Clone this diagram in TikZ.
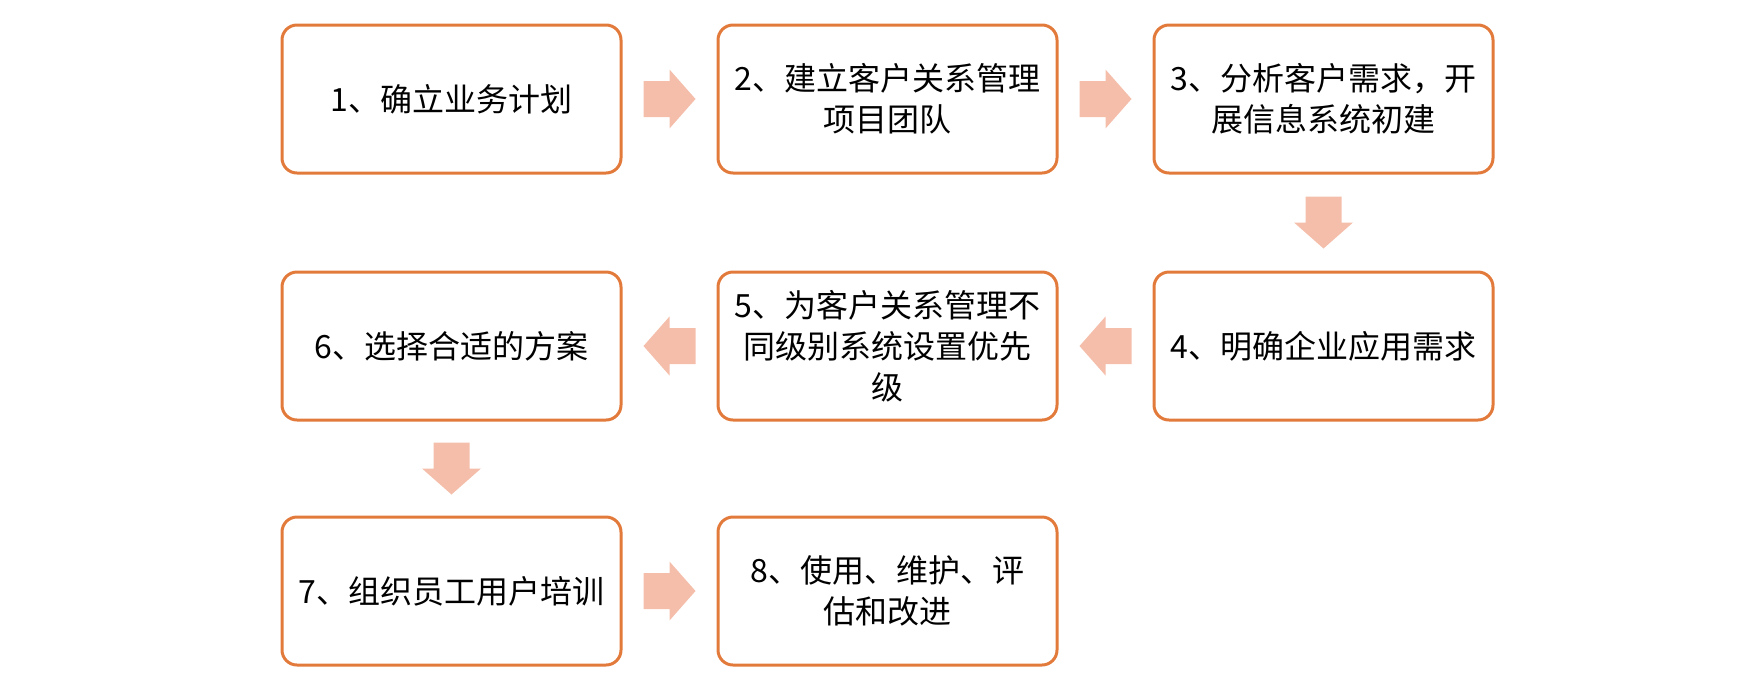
\documentclass[tikz,border=0pt]{standalone}
\usepackage{fontspec}
\setmainfont{Noto Sans CJK SC}
\usetikzlibrary{calc}
\begin{document}
\begin{tikzpicture}[x=0.5pt,y=-0.5pt,
  stepbox/.style={draw=boxorange, line width=1.5pt, rounded corners=7.5pt,
    minimum width=169.5pt, minimum height=74pt, inner sep=0pt,
    align=center, font=\fontsize{16pt}{20.5pt}\selectfont, text=black},
  blockarrow/.pic={\fill[arrowpink] (-26,-18) -- (0,-18) -- (0,-29.5) -- (26,0) -- (0,29.5) -- (0,18) -- (-26,18) -- cycle;}
]
\definecolor{boxorange}{HTML}{E27A3B}
\definecolor{arrowpink}{HTML}{F4BEAB}
\useasboundingbox (0,0) rectangle (1740,687);
\node[stepbox] (b1) at (451.5,99) {1、确立业务计划};
\node[stepbox] (b2) at (887.5,99) {2、建立客户关系管理\\项目团队};
\node[stepbox] (b3) at (1323.5,99) {3、分析客户需求，开\\展信息系统初建};
\node[stepbox] (b4) at (1323.5,346) {4、明确企业应用需求};
\node[stepbox] (b5) at (887.5,346) {5、为客户关系管理不\\同级别系统设置优先\\级};
\node[stepbox] (b6) at (451.5,346) {6、选择合适的方案};
\node[stepbox] (b7) at (451.5,591) {7、组织员工用户培训};
\node[stepbox] (b8) at (887.5,591) {8、使用、维护、评\\估和改进};
\coordinate (a12) at ($(b1.east)!0.5!(b2.west)$);
\coordinate (a23) at ($(b2.east)!0.5!(b3.west)$);
\coordinate (a34) at ($(b3.south)!0.5!(b4.north)$);
\coordinate (a45) at ($(b4.west)!0.5!(b5.east)$);
\coordinate (a56) at ($(b5.west)!0.5!(b6.east)$);
\coordinate (a67) at ($(b6.south)!0.5!(b7.north)$);
\coordinate (a78) at ($(b7.east)!0.5!(b8.west)$);
\pic at (a12) {blockarrow};
\pic at (a23) {blockarrow};
\pic[rotate=-90] at (a34) {blockarrow};
\pic[rotate=180] at (a45) {blockarrow};
\pic[rotate=180] at (a56) {blockarrow};
\pic[rotate=-90] at (a67) {blockarrow};
\pic at (a78) {blockarrow};
\end{tikzpicture}
\end{document}
